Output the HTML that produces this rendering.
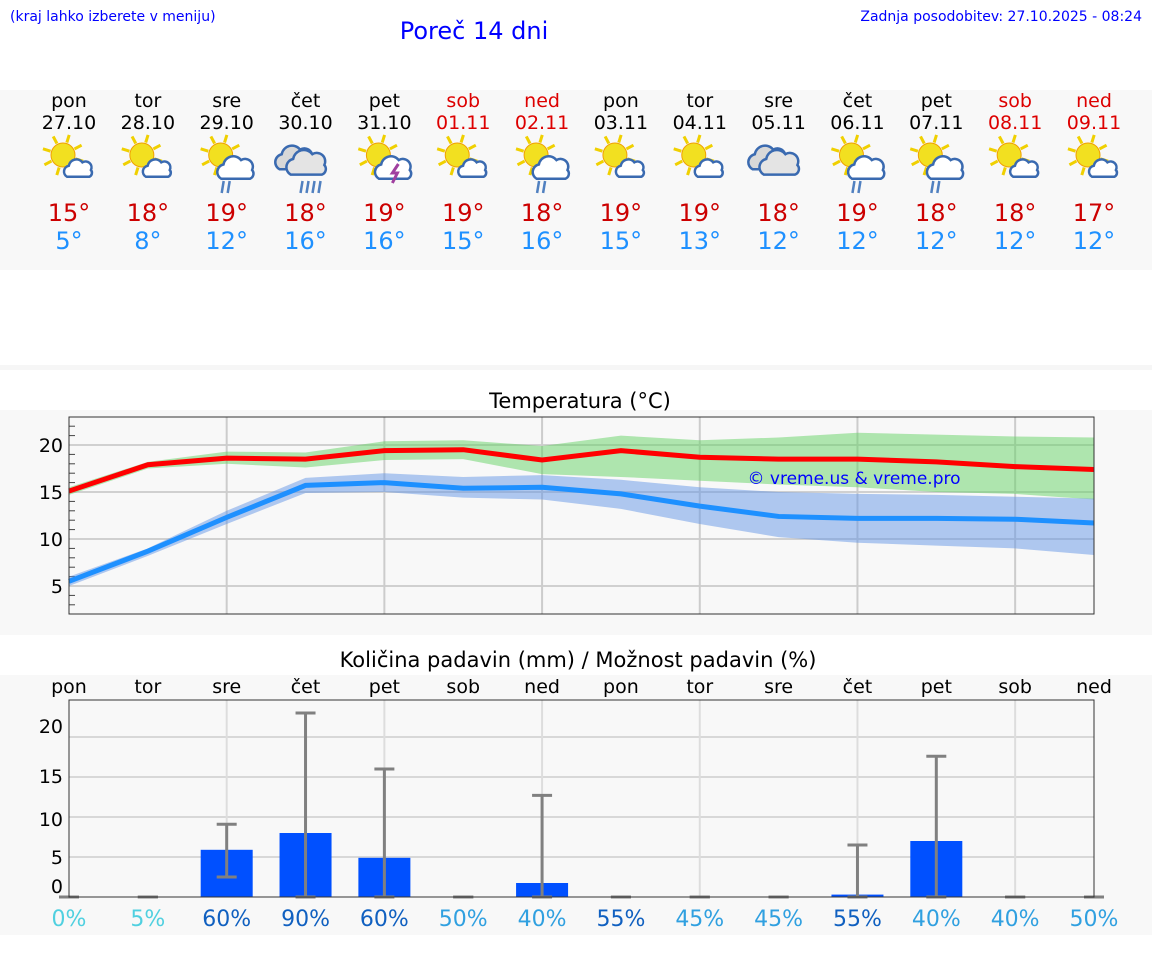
<!DOCTYPE html>
<html><head><meta charset="utf-8"><style>
body{margin:0;background:#fff;width:1152px;height:975px;overflow:hidden;font-family:"DejaVu Sans","Liberation Sans",sans-serif}
svg{position:absolute;left:0;top:0}
</style></head><body>
<svg id="s" width="1152" height="975" xmlns="http://www.w3.org/2000/svg" font-family="DejaVu Sans, Liberation Sans, sans-serif">
<rect x="0" y="90" width="1152" height="180" fill="#f8f8f8"/>
<rect x="0" y="365" width="1152" height="5" fill="#f6f6f6"/>
<rect x="0" y="410" width="1152" height="225" fill="#f8f8f8"/>
<rect x="0" y="675" width="1152" height="260" fill="#f8f8f8"/>
<text x="10" y="21" font-size="14" fill="#0000ff">(kraj lahko izberete v meniju)</text>
<text x="474" y="39" font-size="24" fill="#0000ff" text-anchor="middle">Poreč 14 dni</text>
<text x="1142" y="21" font-size="14" fill="#0000ff" text-anchor="end">Zadnja posodobitev: 27.10.2025 - 08:24</text>
<text x="580" y="408" font-size="21" fill="#000" text-anchor="middle">Temperatura (°C)</text>
<text x="578" y="667" font-size="21" fill="#000" text-anchor="middle">Količina padavin (mm) / Možnost padavin (%)</text>
<g id="hdr"></g><g id="temp"></g><g id="prec"></g>
</svg>
<script>
const days=['pon','tor','sre','čet','pet','sob','ned','pon','tor','sre','čet','pet','sob','ned'];
const dates=['27.10','28.10','29.10','30.10','31.10','01.11','02.11','03.11','04.11','05.11','06.11','07.11','08.11','09.11'];
const weekend=[0,0,0,0,0,1,1,0,0,0,0,0,1,1];
const icons=['sc','sc','scr','cr','sct','sc','scr','sc','sc','c','scr','scr','sc','sc'];
const hiLabels=[15,18,19,18,19,19,18,19,19,18,19,18,18,17];
const loLabels=[5,8,12,16,16,15,16,15,13,12,12,12,12,12];
const tMax=[15.1,17.9,18.6,18.5,19.4,19.5,18.4,19.4,18.7,18.5,18.5,18.2,17.7,17.4];
const tMaxHi=[15.5,18.2,19.3,19.2,20.4,20.5,19.9,21.0,20.5,20.8,21.3,21.1,20.9,20.8];
const tMaxLo=[14.7,17.5,18.0,17.6,18.4,18.5,16.9,16.6,16.2,15.8,15.5,15.0,14.8,14.2];
const tMin=[5.5,8.7,12.3,15.7,16.0,15.4,15.5,14.8,13.5,12.4,12.2,12.2,12.1,11.7];
const tMinHi=[6.0,9.0,13.0,16.5,17.0,16.6,16.8,16.3,15.5,15.0,14.8,14.7,14.5,14.3];
const tMinLo=[5.0,8.2,11.6,14.9,15.0,14.4,14.2,13.2,11.6,10.2,9.6,9.3,9.0,8.3];
const tTicks=[5,10,15,20];
const rain=[0,0,5.9,8.0,4.9,0,1.75,0,0,0,0.3,7.0,0,0];
const rainLo=[0,0,2.5,0,0,0,0,0,0,0,0,0,0,0];
const rainHi=[0,0,9.1,23,16,0,12.7,0,0,0,6.5,17.6,0,0];
const prob=[0,5,60,90,60,50,40,55,45,45,55,40,40,50];
const pTicks=[0,5,10,15,20];
const NS='http://www.w3.org/2000/svg';
function mk(p,t,a,txt){const e=document.createElementNS(NS,t);for(const k in a)e.setAttribute(k,a[k]);if(txt!==undefined)e.textContent=txt;p.appendChild(e);return e;}
const X=i=>69+i*(1025/13);
const Yt=v=>445+(20-v)*9.4;
const Yp=v=>897-v*8;
const hdr=document.getElementById('hdr');
function sun(g,cx,cy){for(let k=0;k<8;k++){const a=k*Math.PI/4+0.3;mk(g,'line',{x1:cx+Math.cos(a)*13,y1:cy+Math.sin(a)*13,x2:cx+Math.cos(a)*21,y2:cy+Math.sin(a)*21,stroke:'#f0d000','stroke-width':3});}mk(g,'circle',{cx,cy,r:12,fill:'#f2e020',stroke:'#f0a000','stroke-width':1});}
function cloud(g,cx,cy,s,fill){const p=`M${cx-14*s},${cy+8*s} a${7*s},${7*s} 0 0 1 ${2*s},${-13*s} a${9*s},${9*s} 0 0 1 ${16*s},${-4*s} a${7*s},${7*s} 0 0 1 ${10*s},${9*s} a${5*s},${5*s} 0 0 1 ${-2*s},${8*s} z`;mk(g,'path',{d:p,fill:fill,stroke:'#3a6ab0','stroke-width':2.5});}
days.forEach((d,i)=>{const x=X(i);const c=weekend[i]?'#dd0000':'#000';
  let e=mk(hdr,'text',{x,y:107,'font-size':19,'text-anchor':'middle',fill:c},d);
  
  e=mk(hdr,'text',{x,y:129,'font-size':19,'text-anchor':'middle',fill:c},dates[i]);
  
  const g=mk(hdr,'g',{});
  const ic=icons[i];
  if(ic==='c'||ic==='cr'){cloud(g,x-10,160,1.15,'#d8d8d8');cloud(g,x+2,165,1.2,'#e4e4e4');}
  else{sun(g,x-6,155);cloud(g,x+10,170,ic==='sc'?0.85:1.1,'#fff');}
  if(ic.includes('r')){for(let k=0;k<(ic==='cr'?4:2);k++)mk(g,'line',{x1:x+k*6-3,y1:181,x2:x+k*6-5,y2:193,stroke:'#5080c0','stroke-width':2.5});}
  if(ic==='sct')mk(g,'path',{d:`M${x+14},${164} l-6,9 h5 l-5,10`,stroke:'#a040a0','stroke-width':3,fill:'none'});
  e=mk(hdr,'text',{x,y:221,'font-size':24,'text-anchor':'middle',fill:'#cc0000'},hiLabels[i]+'°');
  
  e=mk(hdr,'text',{x,y:249,'font-size':24,'text-anchor':'middle',fill:'#1e90ff'},loLabels[i]+'°');
  
});
const tg=document.getElementById('temp');
let r=mk(tg,'rect',{x:69,y:417,width:1025,height:197,fill:'#f8f8f8'});

for(let v=3;v<=22;v++){mk(tg,'line',{x1:69,x2:75,y1:Yt(v),y2:Yt(v),stroke:'#444','stroke-width':1});}
tTicks.forEach(v=>{mk(tg,'line',{x1:69,x2:1094,y1:Yt(v),y2:Yt(v),stroke:'#d0d0d0','stroke-width':2});
  const t=mk(tg,'text',{x:63,y:Yt(v)+7,'font-size':19,'text-anchor':'end',fill:'#000'},v);
  });
for(let i=2;i<14;i+=2)mk(tg,'line',{x1:X(i),x2:X(i),y1:417,y2:614,stroke:'#ccc','stroke-width':2});
function band(hi,lo,fill,name){let d='';hi.forEach((v,i)=>d+=(i?'L':'M')+X(i)+','+Yt(v));for(let i=lo.length-1;i>=0;i--)d+='L'+X(i)+','+Yt(lo[i]);const p=mk(tg,'path',{d:d+'Z',fill:fill});}
function line(vs,col,name){const p=mk(tg,'polyline',{points:vs.map((v,i)=>X(i)+','+Yt(v)).join(' '),fill:'none',stroke:col,'stroke-width':5});}
band(tMaxHi,tMaxLo,'rgba(100,210,100,0.5)','max-temp-range');
band(tMinHi,tMinLo,'rgba(100,150,230,0.5)','min-temp-range');
line(tMax,'#ff0000','max-temp-line');line(tMin,'#1e90ff','min-temp-line');
mk(tg,'rect',{x:69,y:417,width:1025,height:197,fill:'none',stroke:'#333','stroke-width':1});
let w=mk(tg,'text',{x:854,y:484,'font-size':17,'text-anchor':'middle',fill:'#0000ff'},'© vreme.us & vreme.pro');

const pg=document.getElementById('prec');
r=mk(pg,'rect',{x:69,y:700,width:1025,height:197,fill:'#f8f8f8'});

const pLabY={0:893,5:864,10:826,15:783,20:733};
pTicks.forEach(v=>{if(v>0)mk(pg,'line',{x1:69,x2:1094,y1:Yp(v),y2:Yp(v),stroke:'#d8d8d8','stroke-width':2});
  const t=mk(pg,'text',{x:63,y:pLabY[v],'font-size':19,'text-anchor':'end',fill:'#000'},v);
  });
for(let i=2;i<14;i+=2)mk(pg,'line',{x1:X(i),x2:X(i),y1:700,y2:897,stroke:'#ddd','stroke-width':2});
days.forEach((d,i)=>{const x=X(i);
  let t=mk(pg,'text',{x,y:693,'font-size':19,'text-anchor':'middle',fill:'#000'},d);
  
  if(rain[i]>0){const b=mk(pg,'rect',{x:x-26,y:Yp(rain[i]),width:52,height:rain[i]*8,fill:'#0050ff'});
    }
  const e=mk(pg,'g',{stroke:'#808080','stroke-width':3});
  
  mk(e,'line',{x1:x,x2:x,y1:Yp(rainLo[i]),y2:Yp(rainHi[i])});
  mk(e,'line',{x1:x-10,x2:x+10,y1:Yp(rainHi[i]),y2:Yp(rainHi[i])});
  mk(e,'line',{x1:x-10,x2:x+10,y1:Yp(rainLo[i]),y2:Yp(rainLo[i])});
  const p=prob[i];const col=p<=10?'#50d0e0':(p>=55?'#1060c0':'#30a0e0');
  t=mk(pg,'text',{x,y:926,'font-size':22,'text-anchor':'middle',fill:col},p+'%');
  
});
mk(pg,'rect',{x:69,y:700,width:1025,height:197,fill:'none',stroke:'#333','stroke-width':1});
</script>
</body></html>
